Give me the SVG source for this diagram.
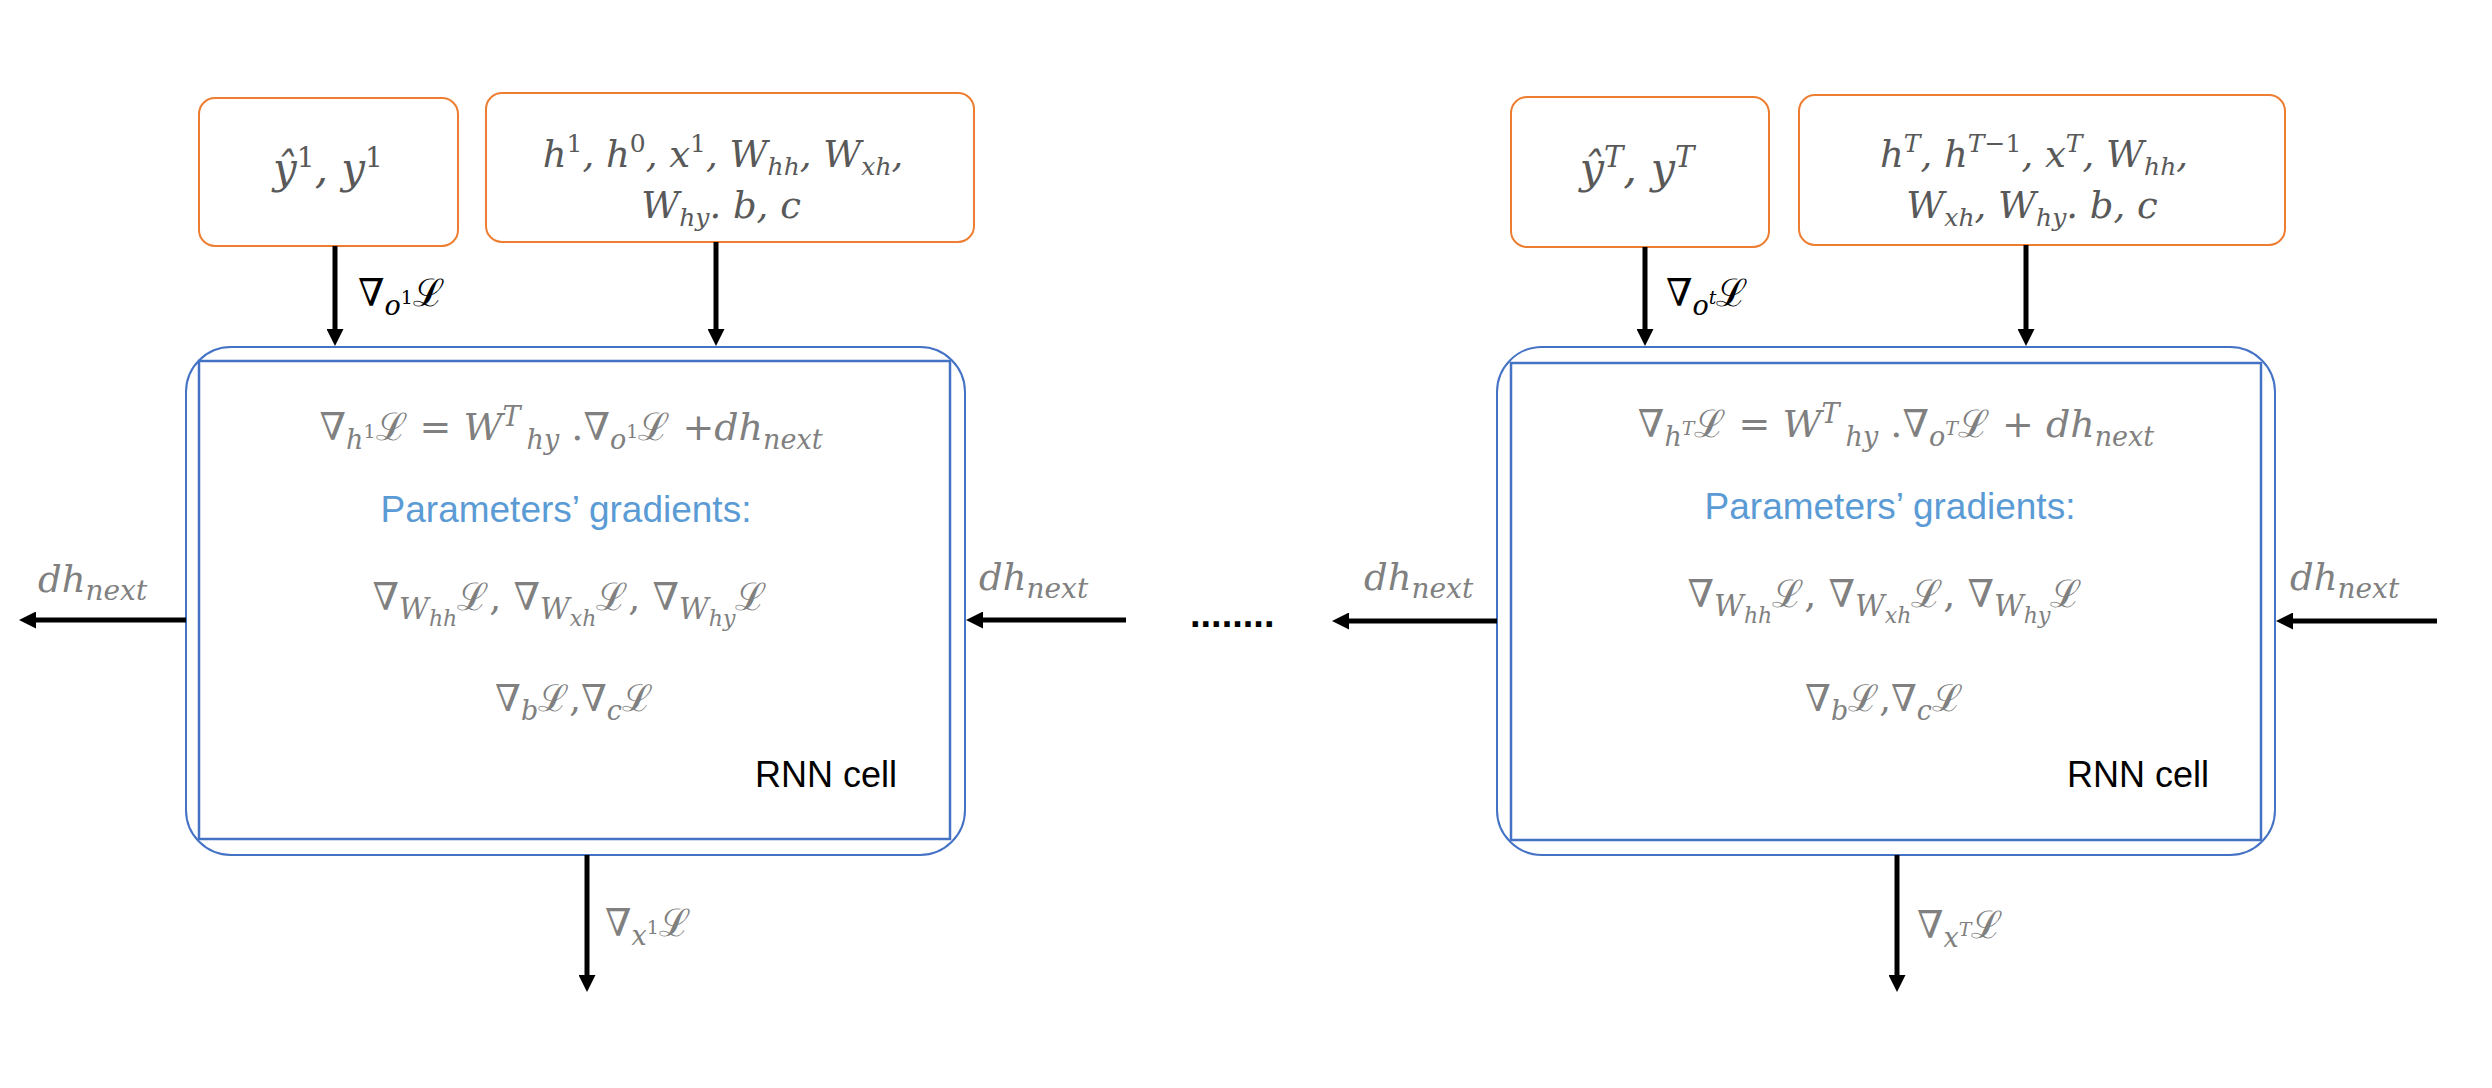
<svg xmlns="http://www.w3.org/2000/svg" width="2492" height="1088" viewBox="0 0 2492 1088">
<defs>
<style>
.orange{fill:#fff;stroke:#ED7D31;stroke-width:2}
.outer{fill:#fff;stroke:#4472C4;stroke-width:2}
.inner{fill:none;stroke:#4472C4;stroke-width:2.5}
.m{font-family:"DejaVu Serif","Liberation Serif",serif;font-style:italic}
.n{font-style:normal}
.g{fill:#808080}
.d{fill:#595959}
.k{fill:#000}
.s{font-family:"Liberation Sans",Arial,sans-serif}
.blue{fill:#5B9BD5}
.conn{stroke:#000;stroke-width:5;fill:none}
</style>
<marker id="ah" markerUnits="userSpaceOnUse" viewBox="0 0 17 17" refX="5" refY="8.5" markerWidth="17" markerHeight="17" orient="auto">
<path d="M0,0 L17,8.5 L0,17 z" fill="#000"/>
</marker>
</defs>
<rect width="2492" height="1088" fill="#fff"/>

<g id="cell1-out-box">
<rect class="orange" x="199" y="98" width="259" height="148" rx="16"/>
<text class="m d" x="328" y="183" text-anchor="middle" font-size="42">ŷ<tspan class="n" font-size="28" dy="-16">1</tspan><tspan dy="16">, y</tspan><tspan class="n" font-size="28" dy="-16">1</tspan></text>
</g>
<g id="cell1-param-box">
<rect class="orange" x="486" y="93" width="488" height="149" rx="16"/>
<text class="m d" x="723" y="167" text-anchor="middle" font-size="37">h<tspan class="n" font-size="25" dy="-15">1</tspan><tspan dy="15">, h</tspan><tspan class="n" font-size="25" dy="-15">0</tspan><tspan dy="15">, x</tspan><tspan class="n" font-size="25" dy="-15">1</tspan><tspan dy="15">, W</tspan><tspan font-size="25" dy="8">hh</tspan><tspan dy="-8">, W</tspan><tspan font-size="25" dy="8">xh</tspan><tspan dy="-8">,</tspan></text>
<text class="m d" x="721" y="218" text-anchor="middle" font-size="37">W<tspan font-size="25" dy="8">hy</tspan><tspan dy="-8">. b, c</tspan></text>
</g>
<g id="cell1">
<rect class="outer" x="186" y="347" width="779" height="508" rx="45"/>
<rect class="inner" x="199" y="361" width="751" height="478"/>
<text class="m g" x="571" y="440" text-anchor="middle" font-size="38"><tspan class="n">∇</tspan><tspan font-size="27" dy="9">h</tspan><tspan class="n" font-size="19" dy="-11">1</tspan><tspan class="n" dy="2">ℒ = </tspan><tspan>W</tspan><tspan font-size="27" dy="-14">T</tspan><tspan font-size="27" dy="23" dx="6">hy</tspan><tspan class="n" dy="-9"> .∇</tspan><tspan font-size="27" dy="9">o</tspan><tspan class="n" font-size="19" dy="-11">1</tspan><tspan class="n" dy="2">ℒ +</tspan><tspan>dh</tspan><tspan font-size="27" dy="9">next</tspan></text>
<text class="s blue" x="566" y="522" text-anchor="middle" font-size="37">Parameters’ gradients:</text>
<text class="m g" x="570" y="610" text-anchor="middle" font-size="38"><tspan class="n">∇</tspan><tspan font-size="29" dy="9">W</tspan><tspan font-size="22" dy="7">hh</tspan><tspan class="n" dy="-16">ℒ, ∇</tspan><tspan font-size="29" dy="9">W</tspan><tspan font-size="22" dy="7">xh</tspan><tspan class="n" dy="-16">ℒ, ∇</tspan><tspan font-size="29" dy="9">W</tspan><tspan font-size="22" dy="7">hy</tspan><tspan class="n" dy="-16">ℒ</tspan></text>
<text class="m g" x="574" y="711" text-anchor="middle" font-size="37"><tspan class="n">∇</tspan><tspan font-size="27" dy="9">b</tspan><tspan class="n" dy="-9">ℒ,∇</tspan><tspan font-size="27" dy="9">c</tspan><tspan class="n" dy="-9">ℒ</tspan></text>
<text class="s k" x="755" y="787" font-size="36">RNN cell</text>
</g>

<g id="cellT-out-box">
<rect class="orange" x="1511" y="97" width="258" height="150" rx="16"/>
<text class="m d" x="1637" y="183" text-anchor="middle" font-size="43">ŷ<tspan font-size="29" dy="-16">T</tspan><tspan dy="16">, y</tspan><tspan font-size="29" dy="-16">T</tspan></text>
</g>
<g id="cellT-param-box">
<rect class="orange" x="1799" y="95" width="486" height="150" rx="16"/>
<text class="m d" x="2034" y="167" text-anchor="middle" font-size="37">h<tspan font-size="25" dy="-15">T</tspan><tspan dy="15">, h</tspan><tspan font-size="25" dy="-15">T<tspan class="n">−1</tspan></tspan><tspan dy="15">, x</tspan><tspan font-size="25" dy="-15">T</tspan><tspan dy="15">, W</tspan><tspan font-size="25" dy="8">hh</tspan><tspan dy="-8">,</tspan></text>
<text class="m d" x="2032" y="218" text-anchor="middle" font-size="37">W<tspan font-size="25" dy="8">xh</tspan><tspan dy="-8">, W</tspan><tspan font-size="25" dy="8">hy</tspan><tspan dy="-8">. b, c</tspan></text>
</g>
<g id="cellT">
<rect class="outer" x="1497" y="347" width="778" height="508" rx="45"/>
<rect class="inner" x="1511" y="363" width="750" height="477"/>
<text class="m g" x="1896" y="437" text-anchor="middle" font-size="38"><tspan class="n">∇</tspan><tspan font-size="27" dy="9">h</tspan><tspan font-size="19" dy="-11">T</tspan><tspan class="n" dy="2">ℒ = </tspan><tspan>W</tspan><tspan font-size="27" dy="-14">T</tspan><tspan font-size="27" dy="23" dx="6">hy</tspan><tspan class="n" dy="-9"> .∇</tspan><tspan font-size="27" dy="9">o</tspan><tspan font-size="19" dy="-11">T</tspan><tspan class="n" dy="2">ℒ + </tspan><tspan>dh</tspan><tspan font-size="27" dy="9">next</tspan></text>
<text class="s blue" x="1890" y="519" text-anchor="middle" font-size="37">Parameters’ gradients:</text>
<text class="m g" x="1885" y="607" text-anchor="middle" font-size="38"><tspan class="n">∇</tspan><tspan font-size="29" dy="9">W</tspan><tspan font-size="22" dy="7">hh</tspan><tspan class="n" dy="-16">ℒ, ∇</tspan><tspan font-size="29" dy="9">W</tspan><tspan font-size="22" dy="7">xh</tspan><tspan class="n" dy="-16">ℒ, ∇</tspan><tspan font-size="29" dy="9">W</tspan><tspan font-size="22" dy="7">hy</tspan><tspan class="n" dy="-16">ℒ</tspan></text>
<text class="m g" x="1884" y="711" text-anchor="middle" font-size="37"><tspan class="n">∇</tspan><tspan font-size="27" dy="9">b</tspan><tspan class="n" dy="-9">ℒ,∇</tspan><tspan font-size="27" dy="9">c</tspan><tspan class="n" dy="-9">ℒ</tspan></text>
<text class="s k" x="2067" y="787" font-size="36">RNN cell</text>
</g>

<g id="connectors">
<path class="conn" d="M335,246 V334" marker-end="url(#ah)"/>
<path class="conn" d="M716,242 V334" marker-end="url(#ah)"/>
<path class="conn" d="M186,620 H31" marker-end="url(#ah)"/>
<path class="conn" d="M1126,620 H978" marker-end="url(#ah)"/>
<path class="conn" d="M587,855 V980" marker-end="url(#ah)"/>
<path class="conn" d="M1645,247 V334" marker-end="url(#ah)"/>
<path class="conn" d="M2026,245 V334" marker-end="url(#ah)"/>
<path class="conn" d="M1497,621 H1344" marker-end="url(#ah)"/>
<path class="conn" d="M2437,621 H2288" marker-end="url(#ah)"/>
<path class="conn" d="M1897,855 V980" marker-end="url(#ah)"/>
<text class="m k" x="358" y="306" font-size="38"><tspan class="n">∇</tspan><tspan font-size="27" dy="9">o</tspan><tspan class="n" font-size="19" dy="-11">1</tspan><tspan class="n" dy="2">ℒ</tspan></text>
<text class="m k" x="1666" y="306" font-size="38"><tspan class="n">∇</tspan><tspan font-size="27" dy="9">o</tspan><tspan font-size="19" dy="-11">t</tspan><tspan class="n" dy="2">ℒ</tspan></text>
<text class="m g" x="38" y="592" font-size="37">dh<tspan font-size="28" dy="8">next</tspan></text>
<text class="m g" x="979" y="590" font-size="37">dh<tspan font-size="28" dy="8">next</tspan></text>
<text class="m g" x="1364" y="590" font-size="37">dh<tspan font-size="28" dy="8">next</tspan></text>
<text class="m g" x="2290" y="590" font-size="37">dh<tspan font-size="28" dy="8">next</tspan></text>
<text class="m g" x="605" y="936" font-size="38"><tspan class="n">∇</tspan><tspan font-size="27" dy="9">x</tspan><tspan class="n" font-size="19" dy="-11">1</tspan><tspan class="n" dy="2">ℒ</tspan></text>
<text class="m g" x="1917" y="938" font-size="38"><tspan class="n">∇</tspan><tspan font-size="27" dy="9">x</tspan><tspan font-size="19" dy="-11">T</tspan><tspan class="n" dy="2">ℒ</tspan></text>
<text class="s k" x="1190" y="627" font-size="38" font-weight="bold">........</text>
</g>
</svg>
